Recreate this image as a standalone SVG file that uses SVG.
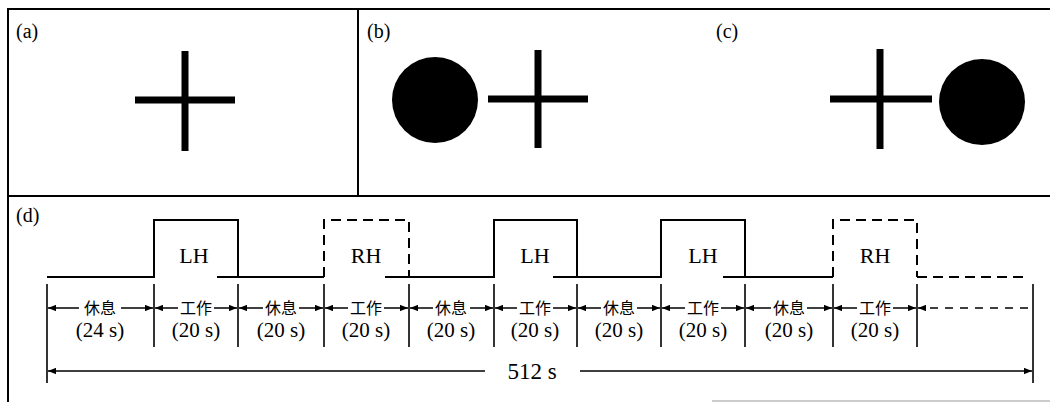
<svg xmlns="http://www.w3.org/2000/svg" width="1050" height="402" viewBox="0 0 1050 402">
<defs>
<style>
.frame{stroke:#000;stroke-width:2;fill:none}
.bar{stroke:#000;stroke-width:7;fill:none}
.wave{stroke:#000;stroke-width:2;fill:none}
.dash{stroke:#000;stroke-width:2;fill:none;stroke-dasharray:10 6}
.tick{stroke:#000;stroke-width:1.6;fill:none}
.arr{stroke:#000;stroke-width:1.5;fill:none}
.arrd{stroke:#000;stroke-width:1.5;fill:none;stroke-dasharray:8 7}
.serif{font-family:'Liberation Serif','DejaVu Serif','Times New Roman',serif;fill:#000}
.lbl{font-size:20px}
.hand{font-size:22px;text-anchor:middle}
.cjk{font-family:'Noto Sans CJK SC','Noto Sans CJK JP',sans-serif;font-size:16px;fill:#000;text-anchor:middle}
.dur{font-size:21px;text-anchor:middle}
.tot{font-size:23px;text-anchor:middle}
</style>
<marker id="ah" viewBox="0 0 10 8" refX="10" refY="4" markerWidth="8" markerHeight="6.4" markerUnits="userSpaceOnUse" orient="auto">
<path d="M0,0 L10,4 L0,8 Z" fill="#000"/>
</marker>
</defs>
<rect width="1050" height="402" fill="#fff"/>

<g id="frame">
<line class="frame" x1="8" y1="9" x2="1050" y2="9"/>
<line class="frame" x1="8" y1="8" x2="8" y2="402"/>
<line class="frame" x1="358" y1="9" x2="358" y2="196"/>
<line class="frame" x1="8" y1="196" x2="1050" y2="196"/>
<line x1="712" y1="401" x2="1050" y2="401" stroke="#bbb" stroke-width="1.5"/>
</g>

<g id="panel-a">
<text class="serif lbl" x="16" y="38">(a)</text>
<line class="bar" x1="185" y1="51" x2="185" y2="151"/>
<line class="bar" x1="135" y1="100" x2="235" y2="100"/>
</g>

<g id="panel-b">
<text class="serif lbl" x="367" y="38">(b)</text>
<circle cx="435" cy="100" r="43" fill="#000"/>
<line class="bar" x1="538" y1="50" x2="538" y2="148"/>
<line class="bar" x1="488" y1="99" x2="588" y2="99"/>
</g>

<g id="panel-c">
<text class="serif lbl" x="716" y="38">(c)</text>
<line class="bar" x1="880" y1="49" x2="880" y2="149"/>
<line class="bar" x1="830" y1="99" x2="932" y2="99"/>
<circle cx="982" cy="102" r="43" fill="#000"/>
</g>

<g id="panel-d">
<text class="serif lbl" x="16" y="222">(d)</text>

<g id="waveform">
<path class="wave" d="M47,277 H154 V220 H238 V277"/>
<path class="wave" d="M217,277 H324"/>
<path class="dash" d="M324,277 V220 H409 V277"/>
<path class="wave" d="M385,277 H494 V220 H577 V277"/>
<path class="wave" d="M553,277 H661 V220 H745 V277"/>
<path class="wave" d="M723,277 H833"/>
<path class="dash" d="M833,277 V220 H917 V277"/>
<path class="dash" d="M917,277 H1024"/>
<text class="serif hand" x="194" y="263">LH</text>
<text class="serif hand" x="366" y="263">RH</text>
<text class="serif hand" x="535" y="263">LH</text>
<text class="serif hand" x="703" y="263">LH</text>
<text class="serif hand" x="875" y="263">RH</text>
</g>

<g id="ticks">
<line class="tick" x1="47" y1="284" x2="47" y2="383"/>
<line class="tick" x1="154" y1="284" x2="154" y2="347"/>
<line class="tick" x1="238" y1="284" x2="238" y2="347"/>
<line class="tick" x1="324" y1="284" x2="324" y2="347"/>
<line class="tick" x1="409" y1="284" x2="409" y2="347"/>
<line class="tick" x1="494" y1="284" x2="494" y2="347"/>
<line class="tick" x1="577" y1="284" x2="577" y2="347"/>
<line class="tick" x1="661" y1="284" x2="661" y2="347"/>
<line class="tick" x1="745" y1="284" x2="745" y2="347"/>
<line class="tick" x1="833" y1="284" x2="833" y2="347"/>
<line class="tick" x1="917" y1="284" x2="917" y2="347"/>
<line class="tick" x1="1033" y1="284" x2="1033" y2="383"/>
</g>

<g id="connectors">
<line class="arr" x1="79" y1="308" x2="48" y2="308" marker-end="url(#ah)"/>
<line class="arr" x1="121" y1="308" x2="153" y2="308" marker-end="url(#ah)"/>
<line class="arr" x1="178" y1="308" x2="155" y2="308" marker-end="url(#ah)"/>
<line class="arr" x1="214" y1="308" x2="237" y2="308" marker-end="url(#ah)"/>
<line class="arr" x1="263" y1="308" x2="239" y2="308" marker-end="url(#ah)"/>
<line class="arr" x1="299" y1="308" x2="323" y2="308" marker-end="url(#ah)"/>
<line class="arr" x1="348" y1="308" x2="325" y2="308" marker-end="url(#ah)"/>
<line class="arr" x1="384" y1="308" x2="408" y2="308" marker-end="url(#ah)"/>
<line class="arr" x1="433" y1="308" x2="410" y2="308" marker-end="url(#ah)"/>
<line class="arr" x1="470" y1="308" x2="493" y2="308" marker-end="url(#ah)"/>
<line class="arr" x1="517" y1="308" x2="495" y2="308" marker-end="url(#ah)"/>
<line class="arr" x1="553" y1="308" x2="576" y2="308" marker-end="url(#ah)"/>
<line class="arr" x1="601" y1="308" x2="578" y2="308" marker-end="url(#ah)"/>
<line class="arr" x1="637" y1="308" x2="660" y2="308" marker-end="url(#ah)"/>
<line class="arr" x1="685" y1="308" x2="662" y2="308" marker-end="url(#ah)"/>
<line class="arr" x1="721" y1="308" x2="744" y2="308" marker-end="url(#ah)"/>
<line class="arr" x1="771" y1="308" x2="746" y2="308" marker-end="url(#ah)"/>
<line class="arr" x1="807" y1="308" x2="832" y2="308" marker-end="url(#ah)"/>
<line class="arr" x1="857" y1="308" x2="834" y2="308" marker-end="url(#ah)"/>
<line class="arr" x1="893" y1="308" x2="916" y2="308" marker-end="url(#ah)"/>
<line class="arr" x1="926" y1="308" x2="918" y2="308" marker-end="url(#ah)"/>
<line class="arrd" x1="930" y1="308" x2="1033" y2="308"/>
<line class="arr" x1="485" y1="371" x2="48" y2="371" marker-end="url(#ah)"/>
<line class="arr" x1="580" y1="371" x2="1032" y2="371" marker-end="url(#ah)"/>
</g>

<g id="labels">
<text class="cjk" x="100" y="314">休息</text>
<text class="cjk" x="196" y="314">工作</text>
<text class="cjk" x="281" y="314">休息</text>
<text class="cjk" x="366" y="314">工作</text>
<text class="cjk" x="451" y="314">休息</text>
<text class="cjk" x="535" y="314">工作</text>
<text class="cjk" x="619" y="314">休息</text>
<text class="cjk" x="703" y="314">工作</text>
<text class="cjk" x="789" y="314">休息</text>
<text class="cjk" x="875" y="314">工作</text>
<text class="serif dur" x="100" y="337">(24 s)</text>
<text class="serif dur" x="196" y="337">(20 s)</text>
<text class="serif dur" x="281" y="337">(20 s)</text>
<text class="serif dur" x="366" y="337">(20 s)</text>
<text class="serif dur" x="451" y="337">(20 s)</text>
<text class="serif dur" x="535" y="337">(20 s)</text>
<text class="serif dur" x="619" y="337">(20 s)</text>
<text class="serif dur" x="703" y="337">(20 s)</text>
<text class="serif dur" x="789" y="337">(20 s)</text>
<text class="serif dur" x="875" y="337">(20 s)</text>
<text class="serif tot" x="532" y="379">512 s</text>
</g>
</g>
</svg>
